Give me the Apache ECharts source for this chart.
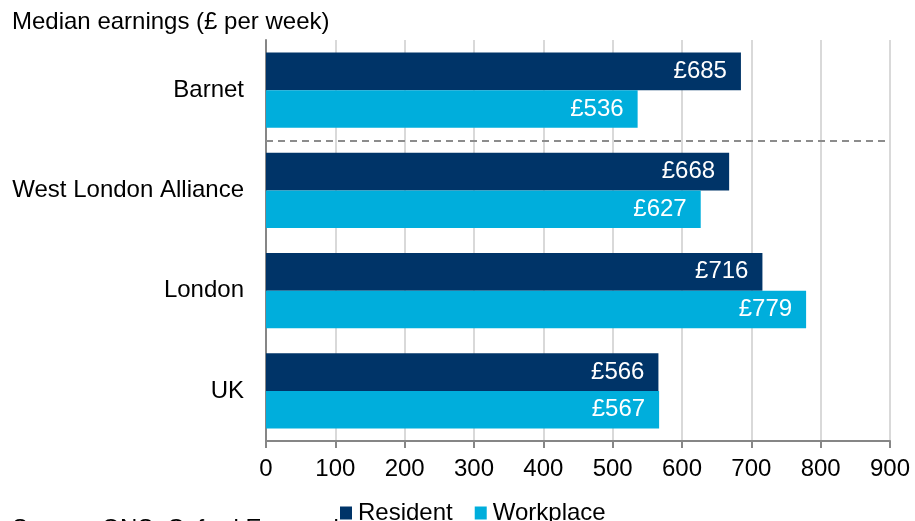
<!DOCTYPE html>
<html>
<head>
<meta charset="utf-8">
<script src="https://cdn.jsdelivr.net/npm/echarts@6/dist/echarts.min.js"></script>
<style>
html,body{margin:0;padding:0;background:#fff;}
#c{width:915px;height:521px;}
</style>
</head>
<body>
<div id="c"></div>
<script>
var categories = ['Barnet', 'West London Alliance', 'London', 'UK'];
var resident = [685, 668, 716, 566];
var workplace = [536, 627, 779, 567];
var xTicks = [0, 100, 200, 300, 400, 500, 600, 700, 800, 900];
var seriesNames = ['Resident', 'Workplace'];
var titleText = 'Median earnings (£ per week)';
var sourceText = 'Source: ONS, Oxford Economics';
var separatorAfter = 1; // boundary between Barnet and the rest

var FONT = 'Liberation Sans, Arial, sans-serif';
var FS = 24;
var chart = echarts.init(document.getElementById('c'), null, {renderer: 'canvas'});

function barLabel() {
  return {
    show: true,
    position: 'insideRight',
    distance: 14,
    color: '#ffffff',
    fontFamily: FONT,
    fontSize: FS,
    formatter: function (p) { return '£' + p.value; }
  };
}

var option = {
  animation: false,
  backgroundColor: '#ffffff',
  textStyle: {fontFamily: FONT},
  title: {
    text: titleText,
    left: 7,
    top: 5,
    textStyle: {fontFamily: FONT, fontSize: FS, fontWeight: 'normal', color: '#000'}
  },
  graphic: [{
    type: 'text',
    left: 12,
    top: 517.5,
    style: {text: sourceText, fontFamily: FONT, fontSize: FS, fill: '#000'}
  }],
  legend: {
    data: seriesNames,
    left: 335,
    top: 496,
    itemWidth: 12,
    itemHeight: 13,
    itemGap: 22,
    icon: 'rect',
    textStyle: {fontFamily: FONT, fontSize: FS, color: '#000', padding: [0, 0, 0, 1]}
  },
  grid: {left: 266, right: 25, top: 40, bottom: 80, containLabel: false},
  xAxis: {
    type: 'value',
    min: xTicks[0],
    max: xTicks[xTicks.length - 1],
    interval: xTicks[1] - xTicks[0],
    position: 'bottom',
    axisLine: {show: true, onZero: false, lineStyle: {color: '#868686', width: 2}},
    axisTick: {show: true, length: 7, lineStyle: {color: '#868686', width: 2}},
    axisLabel: {color: '#000', fontFamily: FONT, fontSize: FS, margin: 16},
    splitLine: {show: true, lineStyle: {color: '#d9d9d9', width: 2}}
  },
  yAxis: [{
    type: 'category',
    data: categories,
    inverse: true,
    axisLine: {show: true, onZero: false, lineStyle: {color: '#868686', width: 2}},
    axisTick: {show: false},
    axisLabel: {color: '#000', fontFamily: FONT, fontSize: FS, margin: 22},
    splitLine: {show: false}
  }, {
    type: 'value',
    min: 0,
    max: categories.length,
    inverse: true,
    show: false
  }],
  series: [{
    name: seriesNames[0],
    type: 'bar',
    data: resident,
    barGap: '0%',
    barCategoryGap: '25%',
    itemStyle: {color: '#003468'},
    label: barLabel()
  }, {
    name: seriesNames[1],
    type: 'bar',
    data: workplace,
    itemStyle: {color: '#00AEDC'},
    label: barLabel()
  }, {
    name: 'sep',
    type: 'line',
    yAxisIndex: 1,
    data: [[0, separatorAfter]],
    symbol: 'none',
    silent: true,
    lineStyle: {opacity: 0},
    markLine: {
      silent: true,
      symbol: ['none', 'none'],
      label: {show: false},
      lineStyle: {type: [7, 5], color: '#8c8c8c', width: 2},
      data: [{yAxis: separatorAfter}]
    }
  }]
};
chart.setOption(option);
</script>
</body>
</html>
